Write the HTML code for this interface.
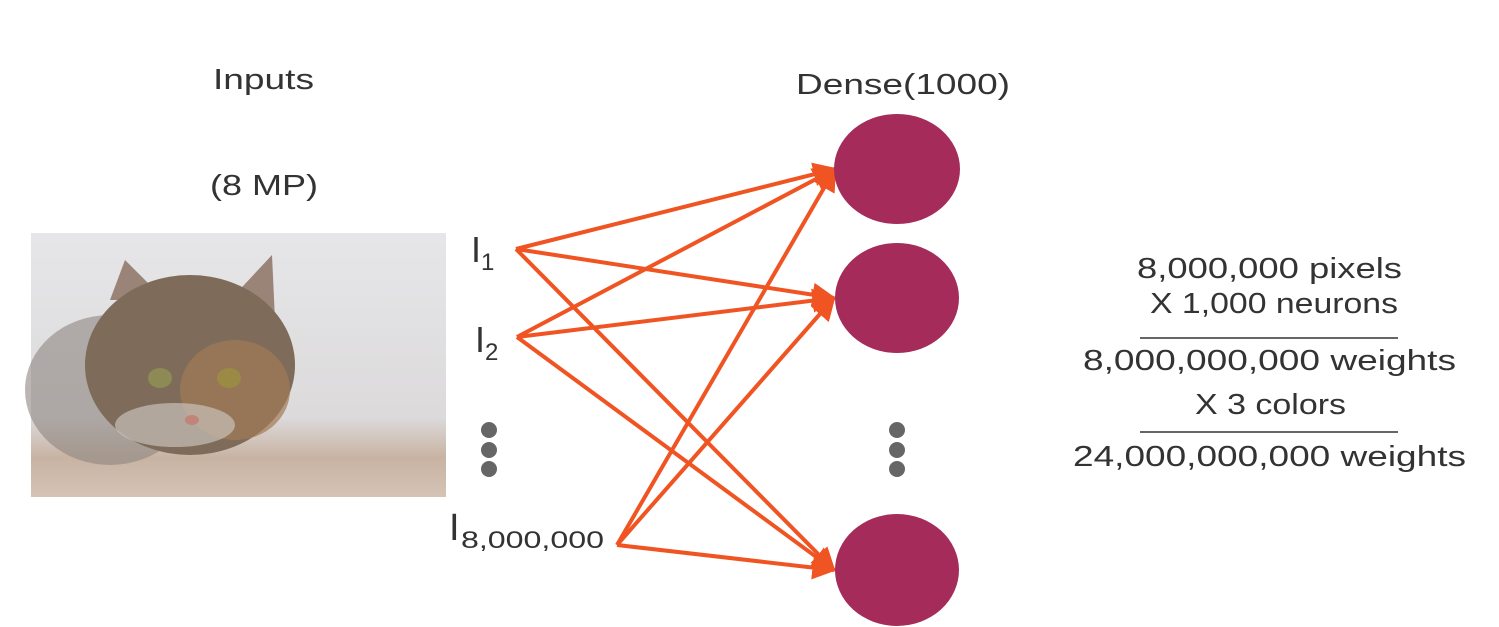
<!DOCTYPE html>
<html><head><style>
body{margin:0;width:1499px;height:627px;background:#fff;overflow:hidden;font-family:"Liberation Sans",sans-serif;color:#333}
</style></head><body>
<svg width="1499" height="627" viewBox="0 0 1499 627" style="position:absolute;left:0;top:0">
<defs>
<marker id="ah" viewBox="0 0 10 10" refX="9" refY="5" markerWidth="24" markerHeight="24" markerUnits="userSpaceOnUse" orient="auto"><path d="M0,0 L10,5 L0,10 z" fill="#f05423"/></marker>
<linearGradient id="bg" x1="0" y1="0" x2="0" y2="1"><stop offset="0" stop-color="#e6e6e8"/><stop offset="0.7" stop-color="#dcdadb"/><stop offset="0.85" stop-color="#c8b3a3"/><stop offset="1" stop-color="#d5c3b5"/></linearGradient>
</defs>
<rect x="31" y="233" width="415" height="264" fill="url(#bg)"/>
<ellipse cx="110" cy="390" rx="85" ry="75" fill="#8d8580" opacity="0.6"/>
<path d="M110 300 L125 260 L165 300 Z" fill="#9a8478"/>
<path d="M230 300 L272 255 L275 320 Z" fill="#9a8478"/>
<ellipse cx="190" cy="365" rx="105" ry="90" fill="#7e6b5a"/>
<ellipse cx="235" cy="390" rx="55" ry="50" fill="#a27a55" opacity="0.7"/>
<ellipse cx="175" cy="425" rx="60" ry="22" fill="#c8c0b8" opacity="0.7"/>
<ellipse cx="160" cy="378" rx="12" ry="10" fill="#8d8a55"/>
<ellipse cx="229" cy="378" rx="12" ry="10" fill="#9a8a45"/>
<ellipse cx="192" cy="420" rx="7" ry="5" fill="#c08578"/>
<g stroke="#f05423" stroke-width="4" fill="none" marker-end="url(#ah)">
<line x1="516" y1="249" x2="835" y2="169"/>
<line x1="516" y1="249" x2="834" y2="298"/>
<line x1="516" y1="249" x2="834" y2="570"/>
<line x1="517" y1="337" x2="835" y2="169"/>
<line x1="517" y1="337" x2="834" y2="298"/>
<line x1="517" y1="337" x2="834" y2="570"/>
<line x1="617" y1="545" x2="835" y2="169"/>
<line x1="617" y1="545" x2="834" y2="298"/>
<line x1="617" y1="545" x2="834" y2="570"/>
</g>
<g fill="#a52c5a">
<ellipse cx="897" cy="169" rx="63" ry="55"/>
<ellipse cx="897" cy="298" rx="62" ry="55"/>
<ellipse cx="897" cy="570" rx="62" ry="56"/>
</g>
<g fill="#666">
<circle cx="489" cy="430" r="8"/><circle cx="489" cy="450" r="8"/><circle cx="489" cy="469" r="8"/>
<circle cx="897" cy="430" r="8"/><circle cx="897" cy="450" r="8"/><circle cx="897" cy="469" r="8"/>
</g>
<g fill="#333" font-family="Liberation Sans, sans-serif" font-size="29" lengthAdjust="spacingAndGlyphs">
<text x="213" y="89" textLength="101" lengthAdjust="spacingAndGlyphs">Inputs</text>
<text x="210" y="195" textLength="108" lengthAdjust="spacingAndGlyphs">(8 MP)</text>
<text x="796" y="94" textLength="214" lengthAdjust="spacingAndGlyphs">Dense(1000)</text>
<text x="471" y="262" font-size="36">I<tspan font-size="24" dy="8">1</tspan></text>
<text x="475" y="352" font-size="36">I<tspan font-size="24" dy="8">2</tspan></text>
<text x="449" y="540" font-size="38">I</text>
<text x="461" y="548" font-size="24" textLength="143" lengthAdjust="spacingAndGlyphs">8,000,000</text>
<text x="1137" y="278" textLength="265" lengthAdjust="spacingAndGlyphs">8,000,000 pixels</text>
<text x="1150" y="313" textLength="248" lengthAdjust="spacingAndGlyphs">X 1,000 neurons</text>
<text x="1083" y="370" textLength="373" lengthAdjust="spacingAndGlyphs">8,000,000,000 weights</text>
<text x="1195" y="414" textLength="151" lengthAdjust="spacingAndGlyphs">X 3 colors</text>
<text x="1073" y="466" textLength="393" lengthAdjust="spacingAndGlyphs">24,000,000,000 weights</text>
</g>
<line x1="1140" y1="338" x2="1398" y2="338" stroke="#333" stroke-width="1.5"/>
<line x1="1140" y1="432" x2="1398" y2="432" stroke="#333" stroke-width="1.5"/>
</svg>
</body></html>
